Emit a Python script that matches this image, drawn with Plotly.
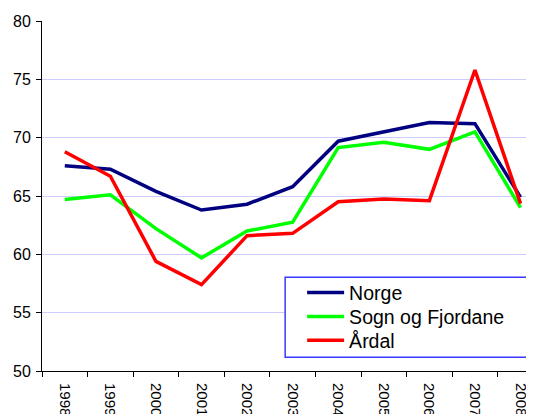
import plotly.graph_objects as go

years = ["1998", "1999", "2000", "2001", "2002", "2003", "2004", "2005", "2006", "2007", "2008"]
norge = [67.6, 67.3, 65.4, 63.8, 64.3, 65.8, 69.7, 70.5, 71.3, 71.2, 64.9]
sogn = [64.7, 65.1, 62.2, 59.7, 62.0, 62.75, 69.15, 69.6, 69.0, 70.5, 64.0]
ardal = [68.8, 66.7, 59.4, 57.4, 61.6, 61.8, 64.5, 64.75, 64.6, 75.8, 64.35]

series = [("Norge", norge, "#000080", "legend", 0.2237),
          ("Sogn og Fjordane", sogn, "#00ff00", "legend2", 0.1551),
          ("Årdal", ardal, "#ff0000", "legend3", 0.0866)]

fig = go.Figure()
for name, vals, col, leg, _ in series:
    fig.add_trace(go.Scatter(x=years, y=vals, name=name, mode="lines",
                             line=dict(color=col, width=3.5), legend=leg))

legend_common = dict(x=0.5287, xanchor="left", yanchor="middle",
                     bgcolor="rgba(0,0,0,0)", borderwidth=0,
                     font=dict(size=19.5, color="black"), itemwidth=37)
layout_legends = {}
for _, _, _, leg, ypos in series:
    layout_legends[leg] = dict(legend_common, y=ypos)

fig.update_layout(
    width=526, height=406,
    margin=dict(l=34, r=0, t=13, b=43, autoexpand=False),
    paper_bgcolor="white", plot_bgcolor="white",
    font=dict(family="Liberation Sans, Arial, sans-serif", size=14, color="black"),
    showlegend=True,
    **layout_legends,
)
fig.add_shape(type="rect", xref="paper", yref="paper",
              x0=0.4942, x1=0.9898, y0=0.0391, y1=0.2677,
              line=dict(color="#3838ff", width=1.5), fillcolor="white", layer="above")

fig.update_xaxes(type="category", range=[-0.5, 10.296], tickson="boundaries",
                 ticks="outside", ticklen=5, tickcolor="black",
                 showline=True, linecolor="black", linewidth=1,
                 showgrid=False, tickangle=90, automargin=False,
                 ticklabelstandoff=8, tickfont=dict(size=15))
fig.update_yaxes(range=[50, 80], dtick=5, ticks="outside", ticklen=5,
                 tickcolor="black", showline=True, linecolor="black", linewidth=1,
                 showgrid=True, gridcolor="#ccccff", gridwidth=1,
                 zeroline=False, automargin=False, ticklabelstandoff=2,
                 tickfont=dict(size=16))

fig.write_html("out.html")
